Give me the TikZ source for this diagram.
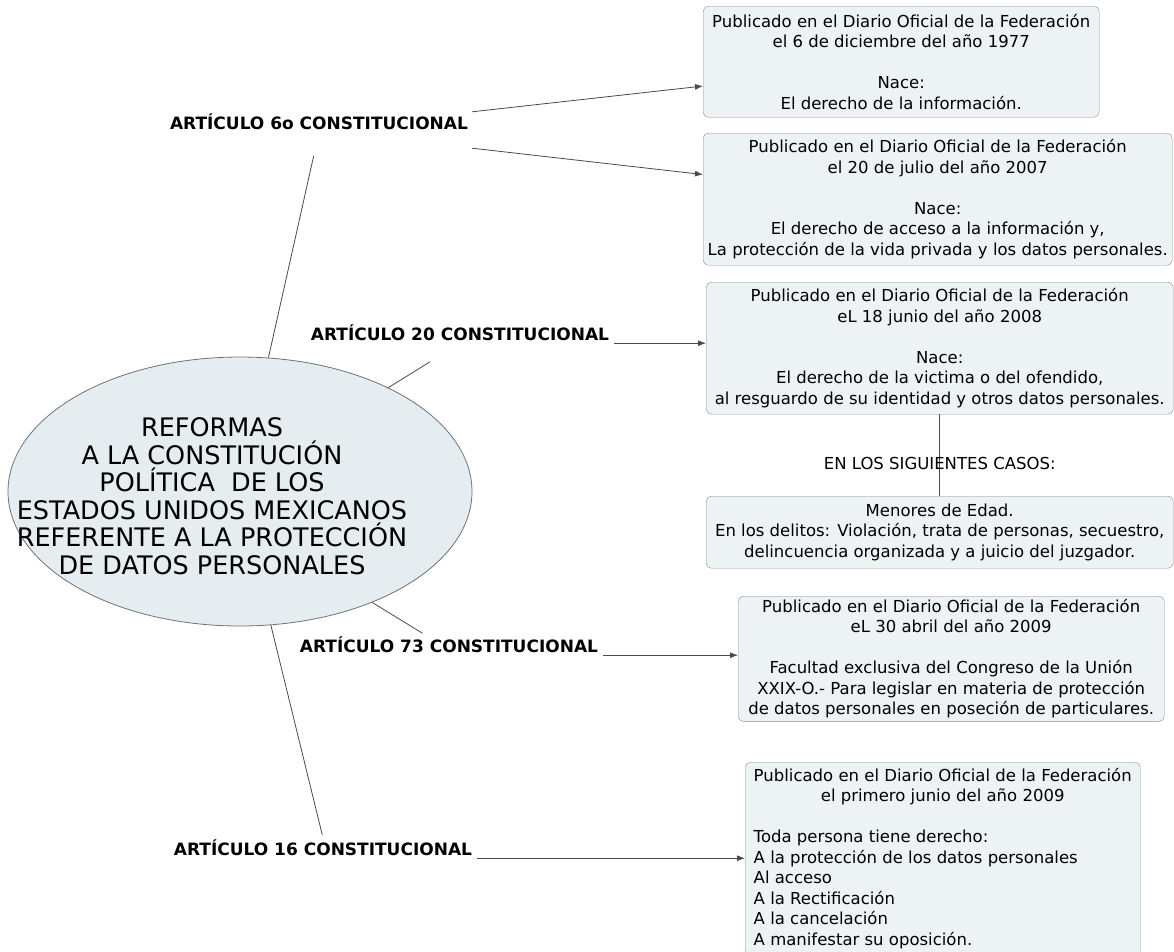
\documentclass[tikz,border=0pt]{standalone}
\usepackage{fontspec}
\setmainfont{DejaVu Sans}
\usetikzlibrary{shapes.geometric,arrows.meta}

\definecolor{boxfill}{HTML}{EDF2F4}
\definecolor{boxline}{HTML}{8A8F92}
\definecolor{ellfill}{HTML}{E5EDF0}
\definecolor{ellline}{HTML}{6E7375}
\definecolor{linkgray}{HTML}{4A4A4A}

\tikzset{
  infobox/.style={draw=boxline, fill=boxfill, rounded corners=5pt, anchor=north west,
    align=center, inner sep=3pt, font=\fontsize{16.5}{20.5}\selectfont},
  artlabel/.style={font=\bfseries\fontsize{17}{20}\selectfont, inner sep=2pt},
  link/.style={draw=linkgray, line width=0.8pt},
  arrowlink/.style={link, -{Latex[length=8pt,width=6pt]}},
}

\begin{document}
\begin{tikzpicture}[x=1pt,y=-1pt]
    \useasboundingbox (0,0) rectangle (1174,951);
    % centre
    \node[ellipse, draw=ellline, fill=ellfill, line width=0.8pt, minimum width=464pt, minimum height=269pt] (refor) at (240,491.5) {};
    \node[align=center, font=\fontsize{25.5}{27.5}\selectfont] (refortxt) at (212,496) {REFORMAS\\A LA CONSTITUCIÓN\\POLÍTICA\ \ DE LOS\\ESTADOS UNIDOS MEXICANOS\\REFERENTE A LA PROTECCIÓN\\DE DATOS PERSONALES};
    % articulos
    \node[artlabel] (art6) at (319,122) {ARTÍCULO 6o CONSTITUCIONAL};
    \node[artlabel] (art20) at (460,333) {ARTÍCULO 20 CONSTITUCIONAL};
    \node[artlabel] (art73) at (449,645) {ARTÍCULO 73 CONSTITUCIONAL};
    \node[artlabel] (art16) at (323,848) {ARTÍCULO 16 CONSTITUCIONAL};
    % cajas
    \node[infobox, minimum width=396pt, minimum height=111pt] (b1) at (703,6) {Publicado en el Diario Oficial de la Federación\\el 6 de diciembre del año 1977\\[20.5pt]Nace:\\El derecho de la información.};
    \node[infobox, minimum width=469pt, minimum height=132pt] (b2) at (703,133) {Publicado en el Diario Oficial de la Federación\\el 20 de julio del año 2007\\[20.5pt]Nace:\\El derecho de acceso a la información y,\\La protección de la vida privada y los datos personales.};
    \node[infobox, minimum width=467pt, minimum height=132pt] (b3) at (706,282) {Publicado en el Diario Oficial de la Federación\\eL 18 junio del año 2008\\[20.5pt]Nace:\\El derecho de la victima o del ofendido,\\al resguardo de su identidad y otros datos personales.};
    \node[infobox, minimum width=467pt, minimum height=72pt] (b4) at (706,496) {Menores de Edad.\\En los delitos: Violación, trata de personas, secuestro,\\delincuencia organizada y a juicio del juzgador.};
    \node[infobox, minimum width=426pt, minimum height=114pt] (b5) at (738,596) {Publicado en el Diario Oficial de la Federación\\eL 30 abril del año 2009\\[20.5pt]Facultad exclusiva del Congreso de la Unión\\XXIX-O.- Para legislar en materia de protección\\de datos personales en poseción de particulares.};
    \node[infobox, minimum width=395pt, minimum height=194pt] (b6) at (745,762) {\begin{tabular}{@{}l@{}}
        \multicolumn{1}{@{}c@{}}{Publicado en el Diario Oficial de la Federación}\\
        \multicolumn{1}{@{}c@{}}{el primero junio del año 2009}\\[20.5pt]
        Toda persona tiene derecho:\\
        A la protección de los datos personales\\
        Al acceso\\
        A la Rectificación\\
        A la cancelación\\
        A manifestar su oposición.
      \end{tabular}};
    % enlaces
    \draw[link, shorten >=24pt] (refor.78) -- (art6.south);
    \draw[link, shorten >=35pt] (refor.35) -- (art20.south);
    \draw[link, shorten >=3pt] (refor.320) -- ([xshift=-24pt]art73.north);
    \draw[link, shorten >=3pt] (refor.283) -- (art16.north);
    \draw[arrowlink] ([xshift=2pt]art6.north east) -- (b1.187);
    \draw[arrowlink] ([xshift=2pt,yshift=-16pt]art6.south east) -- (b2.174);
    \draw[arrowlink] ([xshift=3pt]art20.south east) -- (art20.south east -| b3.west);
    \draw[arrowlink] ([xshift=3pt]art73.south east) -- (art73.south east -| b5.west);
    \draw[arrowlink] ([xshift=3pt]art16.south east) -- (art16.south east -| b6.west);
    \draw[link] (b3.south) -- (b4.north) node[pos=0.6, font=\fontsize{16.5}{20}\selectfont] (casos) {EN LOS SIGUIENTES CASOS:};
\end{tikzpicture}
\end{document}
